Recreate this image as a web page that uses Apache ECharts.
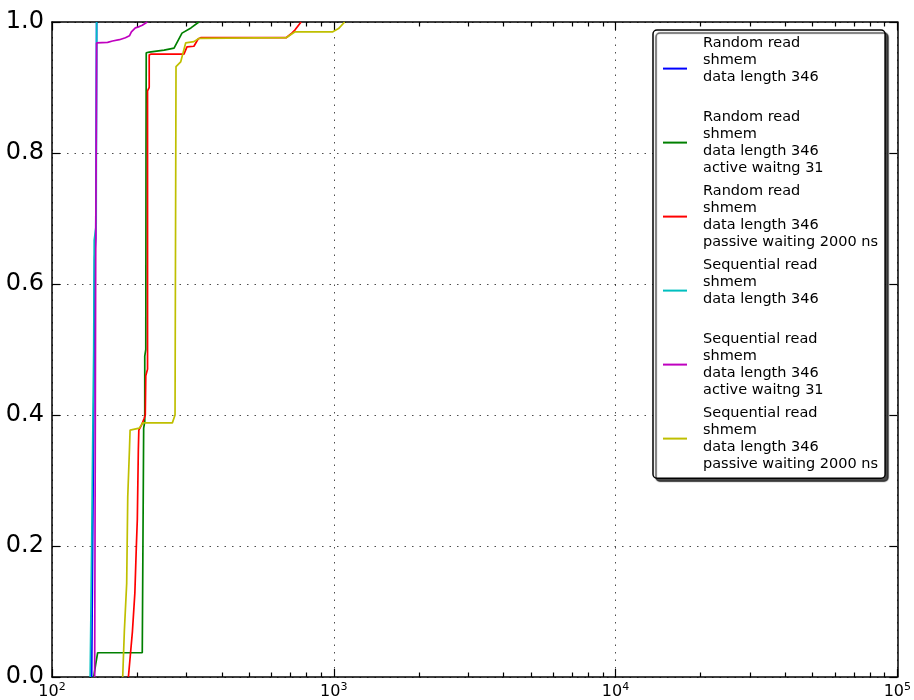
<!DOCTYPE html>
<html>
<head>
<meta charset="utf-8">
<script src="https://cdn.jsdelivr.net/npm/echarts@6.0.0/dist/echarts.min.js"></script>
<style>
html,body{margin:0;padding:0;background:#fff;}
#chart{width:914px;height:700px;}
</style>
</head>
<body>
<div id="chart"></div>
<script>
// ---- data ----
const seriesNames = [
  "Random read\nshmem\ndata length 346",
  "Random read\nshmem\ndata length 346\nactive waitng 31",
  "Random read\nshmem\ndata length 346\npassive waiting 2000 ns",
  "Sequential read\nshmem\ndata length 346",
  "Sequential read\nshmem\ndata length 346\nactive waitng 31",
  "Sequential read\nshmem\ndata length 346\npassive waiting 2000 ns"
];
const seriesColors = ["#0000ff", "#008000", "#ff0000", "#00bfbf", "#bf00bf", "#bfbf00"];

const randomRead = [[138.3,0],[139.4,0.2],[140.6,0.4],[141.7,0.64],[142.9,0.67],[143.5,0.8],[144.0,1.0]];
const randomActive = [[140.6,0],[143.0,0.02],[145.2,0.037],[209.1,0.037],[210.8,0.04],[211.5,0.38],[213.4,0.39],[213.4,0.49],[215.2,0.50],[215.6,0.8],[216.0,0.953],[221.3,0.954],[250.0,0.957],[271.1,0.960],[289.3,0.983],[311.2,0.991],[332.1,1.0]];
const randomPassive = [[186.7,0],[192.9,0.069],[196.8,0.128],[199.2,0.199],[200.8,0.24],[202.5,0.347],[203.3,0.377],[208.0,0.385],[212.5,0.395],[214.3,0.40],[215.2,0.46],[218.3,0.47],[218.3,0.895],[221.3,0.90],[221.3,0.95],[225.0,0.951],[294.0,0.951],[301.3,0.962],[318.9,0.963],[330.0,0.974],[337.0,0.976],[677.6,0.976],[706.0,0.982],[729.0,0.988],[765.4,1.0]];
const seqRead = [[136.6,0],[138.3,0.2],[139.4,0.35],[140.6,0.5],[141.2,0.667],[143.5,0.69],[144.0,1.0]];
const seqActive = [[141.7,0],[142.3,0.3],[142.9,0.64],[143.5,0.8],[144.0,0.968],[145.2,0.968],[157.5,0.969],[164.0,0.971],[173.5,0.973],[182.2,0.976],[188.3,0.979],[191.3,0.985],[197.6,0.991],[204.1,0.993],[209.1,0.995],[212.5,0.997],[217.8,1.0]];
const seqPassive = [[178.2,0],[180.7,0.072],[184.1,0.143],[185.7,0.275],[188.3,0.347],[189.3,0.377],[191.0,0.380],[204.1,0.380],[209.7,0.388],[267.4,0.388],[273.3,0.40],[275.5,0.932],[286.2,0.939],[298.1,0.968],[318.9,0.970],[332.1,0.975],[337.0,0.976],[677.6,0.976],[729.0,0.985],[992.0,0.985],[1040.0,0.99],[1093.0,1.0]];

const seriesData = [randomRead, randomActive, randomPassive, seqRead, seqActive, seqPassive];

const xMin = 100, xMax = 100000;
const yMin = 0, yMax = 1, yStep = 0.2;
const minorTickValues = [200,300,400,500,600,700,800,900,2000,3000,4000,5000,6000,7000,8000,9000,20000,30000,40000,50000,60000,70000,80000,90000];

// ---- chart ----
const chart = echarts.init(document.getElementById('chart'), null, {renderer: 'canvas'});
const FONT = 'DejaVu Sans';
const spine = {show: true, onZero: false, lineStyle: {color: '#000', width: 1.5}};
const gridDots = {show: true, lineStyle: {color: '#000', width: 1, type: [1.5, 6], opacity: 0.7}};
const majorTick = {show: true, inside: true, length: 8, lineStyle: {color: '#000', width: 1.2}};

const lineSeries = seriesData.map((d, i) => ({
  name: seriesNames[i],
  type: 'line',
  data: d,
  xAxisIndex: 0,
  yAxisIndex: 0,
  symbol: 'none',
  showSymbol: false,
  color: seriesColors[i],
  lineStyle: {color: seriesColors[i], width: 1.7},
  z: 3
}));

const option = {
  animation: false,
  backgroundColor: '#fff',
  textStyle: {fontFamily: FONT},
  grid: {left: 52, right: 10, top: 22, bottom: 23, containLabel: false},
  legend: {
    data: seriesNames,
    orient: 'vertical',
    left: 653,
    top: 30,
    padding: [5, 7, 6, 10],
    itemGap: 6.8,
    itemWidth: 24,
    itemHeight: 2,
    icon: 'rect',
    backgroundColor: '#fff',
    borderColor: '#000',
    borderWidth: 1.5,
    borderRadius: 4,
    shadowColor: 'rgba(0,0,0,0.7)',
    shadowOffsetX: 3,
    shadowOffsetY: 3,
    shadowBlur: 1,
    selectedMode: false,
    formatter: function (name) {
      const n = name.split('\n').length;
      return n < 4 ? name + '\n ' : name;
    },
    textStyle: {fontFamily: FONT, fontSize: 14.5, lineHeight: 16.8, color: '#000', padding: [0, 0, 0, 11]}
  },
  xAxis: [
    {
      type: 'log', logBase: 10, min: xMin, max: xMax, position: 'bottom',
      axisLine: spine,
      axisTick: majorTick,
      splitLine: gridDots,
      axisLabel: {
        margin: 5,
        fontFamily: FONT,
        fontSize: 16,
        color: '#000',
        formatter: function (v) {
          return '{b|10}{s|' + Math.round(Math.log10(v)) + '}';
        },
        rich: {
          b: {fontFamily: FONT, fontSize: 16, color: '#000', lineHeight: 19},
          s: {fontFamily: FONT, fontSize: 11, color: '#000', verticalAlign: 'top', lineHeight: 19, padding: [0, 0, 6, 0]}
        }
      }
    },
    {
      type: 'log', logBase: 10, min: xMin, max: xMax, position: 'top',
      axisLine: spine,
      axisTick: majorTick,
      splitLine: {show: false},
      axisLabel: {show: false}
    }
  ],
  yAxis: [
    {
      type: 'value', min: yMin, max: yMax, interval: yStep, position: 'left',
      axisLine: spine,
      axisTick: majorTick,
      splitLine: gridDots,
      axisLabel: {
        margin: 8, fontFamily: FONT, fontSize: 24, color: '#000',
        formatter: v => v.toFixed(1)
      }
    },
    {
      type: 'value', min: yMin, max: yMax, interval: yStep, position: 'right',
      axisLine: spine,
      axisTick: majorTick,
      splitLine: {show: false},
      axisLabel: {show: false}
    }
  ],
  series: lineSeries
};
chart.setOption(option);

// minor ticks on the log axis (inside, bottom and top), placed via the chart's own scale
const minorGfx = [];
minorTickValues.forEach(function (v) {
  const pb = chart.convertToPixel({xAxisIndex: 0, yAxisIndex: 0}, [v, yMin]);
  const pt = chart.convertToPixel({xAxisIndex: 0, yAxisIndex: 0}, [v, yMax]);
  if (!pb || !pt) return;
  const x = Math.round(pb[0]) + 0.5;
  minorGfx.push({type: 'line', silent: true, z: 100, shape: {x1: x, y1: pb[1], x2: x, y2: pb[1] - 4.5}, style: {stroke: '#000', lineWidth: 1.2}});
  minorGfx.push({type: 'line', silent: true, z: 100, shape: {x1: x, y1: pt[1], x2: x, y2: pt[1] + 4.5}, style: {stroke: '#000', lineWidth: 1.2}});
});
chart.setOption({graphic: {elements: minorGfx}});
</script>
</body>
</html>
